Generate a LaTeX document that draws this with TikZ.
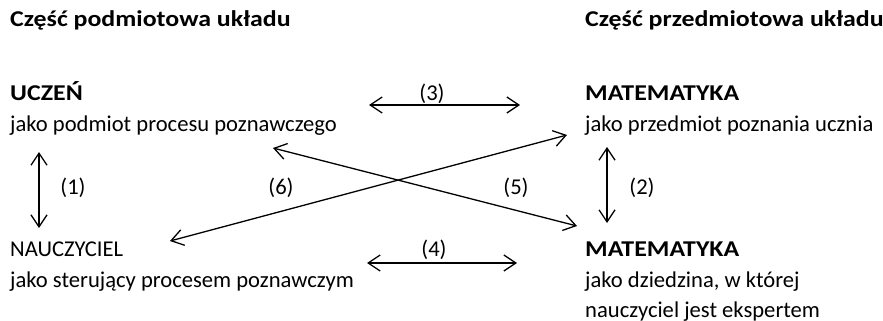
\documentclass[tikz,border=0pt]{standalone}
\usepackage{fontspec}
\setmainfont{Carlito}
\newcommand\wb[1]{\scalebox{1.145}[1]{#1}}
\usetikzlibrary{arrows.meta}
\begin{document}
\begin{tikzpicture}[x=1pt,y=-1pt,
  txt/.style={anchor=base west,inner sep=0pt,font=\fontsize{22.6}{27}\selectfont},
  btxt/.style={txt,font=\fontsize{22.6}{27}\selectfont\bfseries},
  lbl/.style={anchor=base,inner sep=0pt,font=\fontsize{22.6}{27}\selectfont},
  conn/.style={line width=1.3pt,{Straight Barb[length=12pt,width=16pt,line width=1.3pt]}-{Straight Barb[length=12pt,width=16pt,line width=1.3pt]}}]
\useasboundingbox (0,0) rectangle (883,321);
% headers
\node[btxt] (hl) at (10,27) {\wb{Część podmiotowa układu}};
\node[btxt] (hr) at (585,27) {\wb{Część przedmiotowa układu}};
% left column
\node[btxt] (uczen) at (10,100) {\wb{UCZEŃ}};
\node[txt] (uczend) at (10,131) {jako podmiot procesu poznawczego};
\node[txt] (naucz) at (10,256) {NAUCZYCIEL};
\node[txt] (nauczd) at (10,287) {jako sterujący procesem poznawczym};
% right column
\node[btxt] (mat1) at (585,100) {\wb{MATEMATYKA}};
\node[txt] (mat1d) at (585,131) {jako przedmiot poznania ucznia};
\node[btxt] (mat2) at (585,256) {\wb{MATEMATYKA}};
\node[txt] (mat2d) at (585,287) {jako dziedzina, w której};
\node[txt] (mat2e) at (585,317) {nauczyciel jest ekspertem};
% connector end points
\coordinate (a1) at (39,152);
\coordinate (b1) at (39,228);
\coordinate (a2) at (607,147);
\coordinate (b2) at (607,223);
\coordinate (a3) at (369,105);
\coordinate (b3) at (520,105);
\coordinate (a4) at (367,263);
\coordinate (b4) at (517,263);
\coordinate (a5) at (273,148);
\coordinate (b5) at (577,226);
\coordinate (a6) at (170,241);
\coordinate (b6) at (567,135);
% connectors
\draw[conn] (a1) -- (b1);
\draw[conn] (a2) -- (b2);
\draw[conn] (a3) -- (b3);
\draw[conn] (a4) -- (b4);
\draw[conn] (a5) -- (b5);
\draw[conn] (a6) -- (b6);
% labels
\node[lbl] (l1) at (73,194) {(1)};
\node[lbl] (l2) at (642,194) {(2)};
\node[lbl] (l3) at (432,100) {(3)};
\node[lbl] (l4) at (434,256) {(4)};
\node[lbl] (l5) at (516,194) {(5)};
\node[lbl] (l6) at (281,194) {(6)};
\end{tikzpicture}
\end{document}
